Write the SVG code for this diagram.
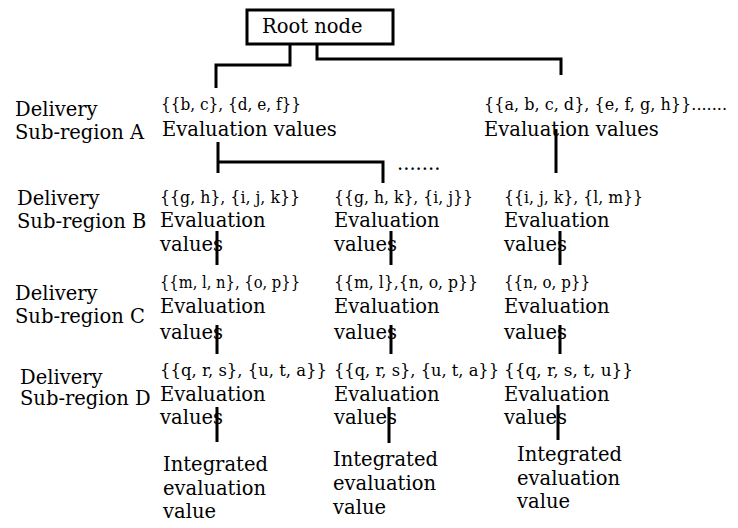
<svg xmlns="http://www.w3.org/2000/svg" width="738" height="528" viewBox="0 0 738 528">
<style>
text{font-family:"DejaVu Serif","Liberation Serif",serif;font-size:19.5px;fill:#000}
text.set{font-size:17.5px}
text.setw{font-size:16.5px}
.ln{fill:none;stroke:#000;stroke-width:3}
</style>
<rect width="738" height="528" fill="#fff"/>
<g id="connectors">
<path class="ln" d="M290 44V65H216V88"/>
<path class="ln" d="M317 44V59H561V75"/>
<path class="ln" d="M218 142V173M218 162H383V183"/>
<path class="ln" d="M556 129V173"/>
<path class="ln" d="M217 231V265M391 231V265M560 231V265"/>
<path class="ln" d="M217 325V354M391 325V354M560 325V354"/>
<path class="ln" d="M217 407V442M389 407V443M558 405V440"/>
</g>
<g id="root">
<rect x="247" y="10" width="146" height="34" fill="#fff" stroke="#000" stroke-width="3"/>
<text x="262" y="33">Root node</text>
</g>
<g id="labels">
<text x="15" y="116">Delivery</text><text x="15" y="139">Sub-region A</text>
<text x="17" y="205">Delivery</text><text x="17" y="228">Sub-region B</text>
<text x="15" y="300">Delivery</text><text x="15" y="323">Sub-region C</text>
<text x="20" y="384">Delivery</text><text x="20" y="405">Sub-region D</text>
</g>
<g id="nodeA1"><text class="set" x="161" y="110" textLength="140" lengthAdjust="spacingAndGlyphs">{{b, c}, {d, e, f}}</text><text x="162" y="136">Evaluation values</text></g>
<g id="nodeA2"><text class="set setw" x="484" y="110" textLength="243" lengthAdjust="spacingAndGlyphs">{{a, b, c, d}, {e, f, g, h}}.......</text><text x="484" y="136">Evaluation values</text></g>
<g id="dots"><text x="397" y="170">.......</text></g>
<g id="nodeB1"><text class="set" x="160" y="203" textLength="140" lengthAdjust="spacingAndGlyphs">{{g, h}, {i, j, k}}</text><text x="160" y="227">Evaluation</text><text x="160" y="251">values</text></g>
<g id="nodeB2"><text class="set" x="334" y="203" textLength="139" lengthAdjust="spacingAndGlyphs">{{g, h, k}, {i, j}}</text><text x="334" y="227">Evaluation</text><text x="334" y="251">values</text></g>
<g id="nodeB3"><text class="set" x="504" y="203" textLength="139" lengthAdjust="spacingAndGlyphs">{{i, j, k}, {l, m}}</text><text x="504" y="227">Evaluation</text><text x="504" y="251">values</text></g>
<g id="nodeC1"><text class="set" x="160" y="288" textLength="140" lengthAdjust="spacingAndGlyphs">{{m, l, n}, {o, p}}</text><text x="160" y="313">Evaluation</text><text x="160" y="339">values</text></g>
<g id="nodeC2"><text class="set" x="334" y="288" textLength="144" lengthAdjust="spacingAndGlyphs">{{m, l},{n, o, p}}</text><text x="334" y="313">Evaluation</text><text x="334" y="339">values</text></g>
<g id="nodeC3"><text class="set" x="504" y="288" textLength="86" lengthAdjust="spacingAndGlyphs">{{n, o, p}}</text><text x="504" y="313">Evaluation</text><text x="504" y="339">values</text></g>
<g id="nodeD1"><text class="set" x="160" y="376" textLength="167" lengthAdjust="spacingAndGlyphs">{{q, r, s}, {u, t, a}}</text><text x="160" y="401">Evaluation</text><text x="160" y="424">values</text></g>
<g id="nodeD2"><text class="set" x="334" y="376" textLength="165" lengthAdjust="spacingAndGlyphs">{{q, r, s}, {u, t, a}}</text><text x="334" y="401">Evaluation</text><text x="334" y="424">values</text></g>
<g id="nodeD3"><text class="set" x="504" y="376" textLength="129" lengthAdjust="spacingAndGlyphs">{{q, r, s, t, u}}</text><text x="504" y="401">Evaluation</text><text x="504" y="424">values</text></g>
<g id="int1"><text x="163" y="471">Integrated</text><text x="163" y="495">evaluation</text><text x="163" y="518">value</text></g>
<g id="int2"><text x="333" y="466">Integrated</text><text x="333" y="490">evaluation</text><text x="333" y="514">value</text></g>
<g id="int3"><text x="517" y="461">Integrated</text><text x="517" y="485">evaluation</text><text x="517" y="508">value</text></g>
</svg>
